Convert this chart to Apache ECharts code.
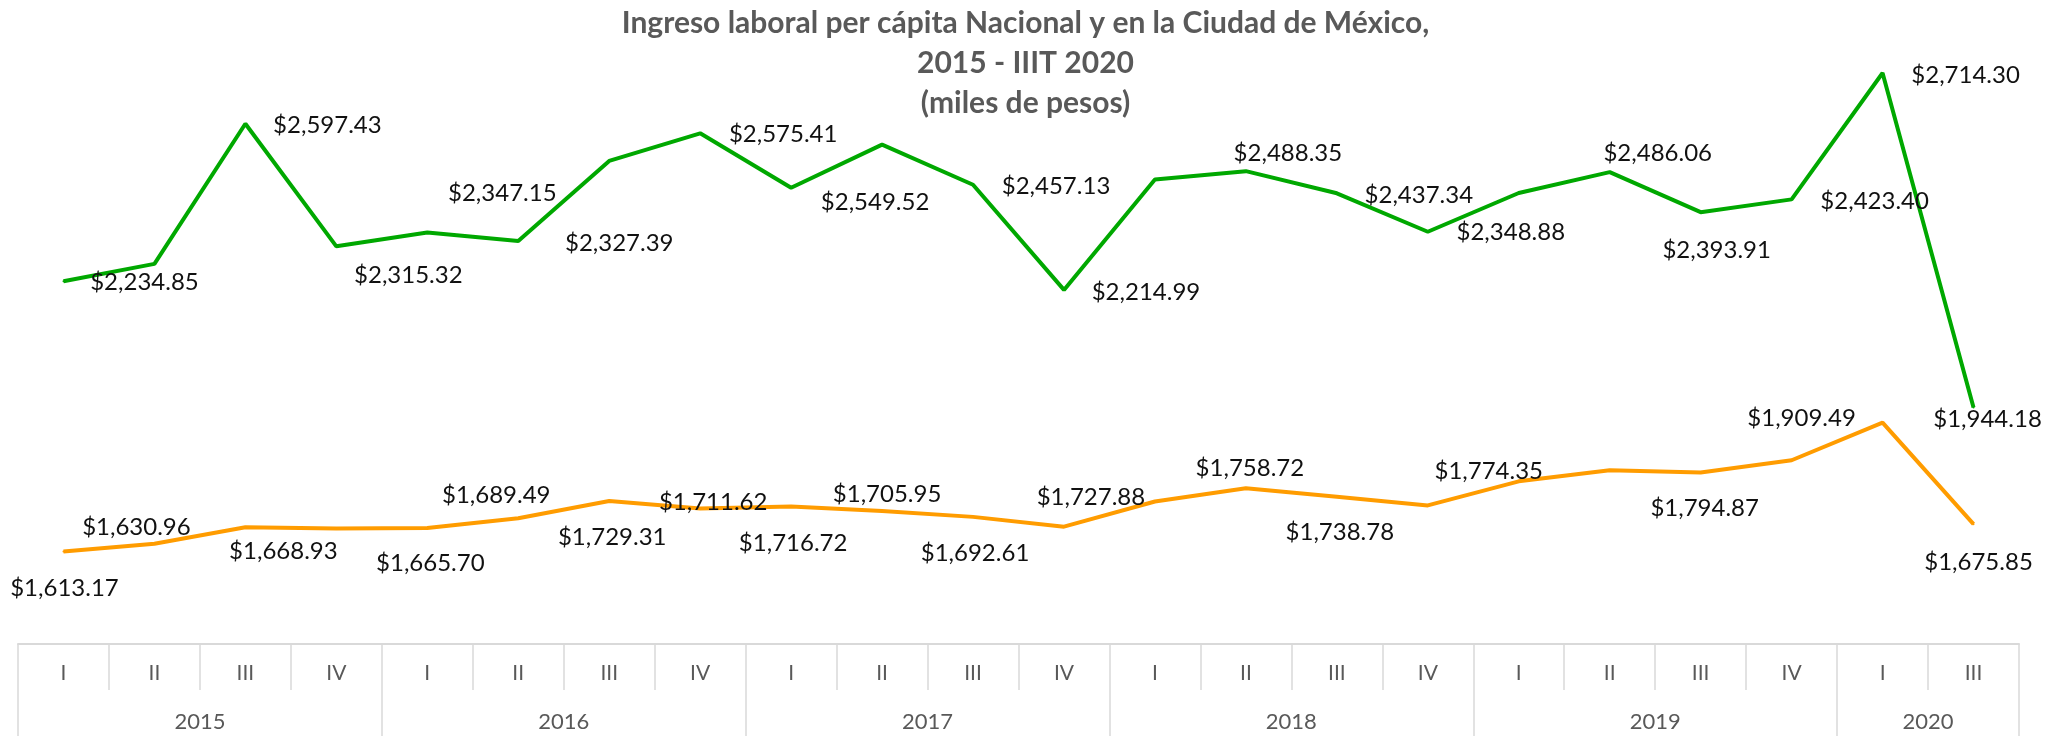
<!DOCTYPE html>
<html>
<head>
<meta charset="utf-8">
<script src="https://cdn.jsdelivr.net/npm/echarts@6/dist/echarts.min.js"></script>
<style>
  html, body { margin: 0; padding: 0; background: #ffffff; }
  #chart { width: 2051px; height: 736px; }
</style>
</head>
<body>
<div id="chart"></div>
<script>
// Quarter categories and the year each one belongs to (2020 only has I and III)
const quarters = [
  "I", "II", "III", "IV",
  "I", "II", "III", "IV",
  "I", "II", "III", "IV",
  "I", "II", "III", "IV",
  "I", "II", "III", "IV",
  "I", "III"
];
const quarterYears = [
  "2015", "2015", "2015", "2015",
  "2016", "2016", "2016", "2016",
  "2017", "2017", "2017", "2017",
  "2018", "2018", "2018", "2018",
  "2019", "2019", "2019", "2019",
  "2020", "2020"
];

// Ingreso laboral per cápita, Ciudad de México (green)
const cdmxValues = [
  2234.85, 2275, 2597.43, 2315.32,
  2347.15, 2327.39, 2512, 2575.41,
  2450, 2549.52, 2457.13, 2214.99,
  2469, 2488.35, 2437.34, 2348.88,
  2438, 2486.06, 2393.91, 2423.40,
  2714.30, 1944.18
];

// Ingreso laboral per cápita, Nacional (orange)
const nacionalValues = [
  1613.17, 1630.96, 1668.93, 1665.70,
  1667, 1689.49, 1729.31, 1711.62,
  1716.72, 1705.95, 1692.61, 1670,
  1727.88, 1758.72, 1738.78, 1719,
  1774.35, 1800, 1794.87, 1823,
  1909.49, 1675.85
];

// hand placed data labels, as in the original: [dx, dy] from the point, null = no label
const cdmxLabelNudge = [
  [81, 1], null, [82, 2], [72, 29],
  [75, -39], [101, 2], null, [83, 1],
  null, [-7, 58], [83, 2], [82, 2],
  null, [42, -18], [82, 2], [83, 1],
  null, [48, -19], [16, 38], [83, 2],
  [83, 2], [14, 12]
];
const nacionalLabelNudge = [
  [1, 37], [-18, -16], [38, 24], [94, 35],
  null, [-22, -23], [3, 36], [13, -6],
  [2, 37], [5, -17], [2, 36], null,
  [-64, -4], [4, -20], [3, 35], null,
  [-30, -10], null, [4, 36], null,
  [-81, -4], [5, 38]
];

const fmtMoney = (v) =>
  "$" + v.toLocaleString("en-US", { minimumFractionDigits: 2, maximumFractionDigits: 2 });

// year group boundaries (in category units) and their centres
const yearEdges = [0];
const yearCentres = [];
const yearAt = {};
for (let i = 1; i <= quarterYears.length; i++) {
  if (i === quarterYears.length || quarterYears[i] !== quarterYears[i - 1]) {
    const start = yearEdges[yearEdges.length - 1];
    const mid = (start + i) / 2;
    yearCentres.push(mid);
    yearAt[mid] = quarterYears[i - 1];
    yearEdges.push(i);
  }
}

const toItems = (values, nudges) =>
  values.map((v, i) => ({
    value: v,
    label: nudges[i] ? { show: true, offset: nudges[i] } : { show: false },
  }));

const chart = echarts.init(document.getElementById("chart"));

const gridLine = "#d9d9d9";
const axisText = "#595959";
const fontFamily = "Lato, 'Open Sans', sans-serif";

const option = {
  animation: false,
  backgroundColor: "#ffffff",
  title: {
    text: "Ingreso laboral per cápita Nacional y en la Ciudad de México,\n2015 - IIIT 2020\n(miles de pesos)",
    left: "center",
    top: 3,
    padding: 0,
    textStyle: {
      color: axisText,
      fontFamily,
      fontSize: 30,
      fontWeight: "bold",
      lineHeight: 40,
    },
  },
  grid: { left: 18, right: 32, top: 1, bottom: 92 },
  xAxis: [
    {
      type: "category",
      data: quarters,
      boundaryGap: true,
      position: "bottom",
      axisLine: { show: true, lineStyle: { color: gridLine, width: 2 } },
      axisTick: { show: true, interval: 0, length: 46, lineStyle: { color: gridLine, width: 1.5 } },
      axisLabel: {
        interval: 0,
        margin: 18,
        color: axisText,
        fontFamily,
        fontSize: 21,
        lineHeight: 22,
      },
      splitLine: { show: false },
    },
    {
      type: "value",
      min: 0,
      max: quarters.length,
      position: "bottom",
      axisLine: { show: false },
      axisTick: {
        show: true,
        customValues: yearEdges,
        length: 92,
        lineStyle: { color: gridLine, width: 1.5 },
      },
      axisLabel: {
        customValues: yearCentres,
        formatter: (v) => yearAt[v] || "",
        margin: 67,
        color: axisText,
        fontFamily,
        fontSize: 22,
        lineHeight: 22,
      },
      splitLine: { show: false },
    },
  ],
  yAxis: {
    type: "value",
    show: false,
    min: 1400,
    max: 2880,
    splitLine: { show: false },
  },
  series: [
    {
      name: "Ciudad de México",
      type: "line",
      xAxisIndex: 0,
      data: toItems(cdmxValues, cdmxLabelNudge),
      symbol: "circle",
      symbolSize: 2,
      itemStyle: { color: "#00a800" },
      lineStyle: { color: "#00a800", width: 4 },
      label: {
        show: true,
        position: "inside",
        align: "center",
        verticalAlign: "middle",
        formatter: (p) => fmtMoney(p.value),
        color: "#111111",
        fontFamily,
        fontSize: 24,
      },
      emphasis: { disabled: true },
      z: 3,
    },
    {
      name: "Nacional",
      type: "line",
      xAxisIndex: 0,
      data: toItems(nacionalValues, nacionalLabelNudge),
      symbol: "circle",
      symbolSize: 2,
      itemStyle: { color: "#ff9c00" },
      lineStyle: { color: "#ff9c00", width: 4 },
      label: {
        show: true,
        position: "inside",
        align: "center",
        verticalAlign: "middle",
        formatter: (p) => fmtMoney(p.value),
        color: "#111111",
        fontFamily,
        fontSize: 24,
      },
      emphasis: { disabled: true },
      z: 2,
    },
  ],
};

chart.setOption(option);
</script>
</body>
</html>
